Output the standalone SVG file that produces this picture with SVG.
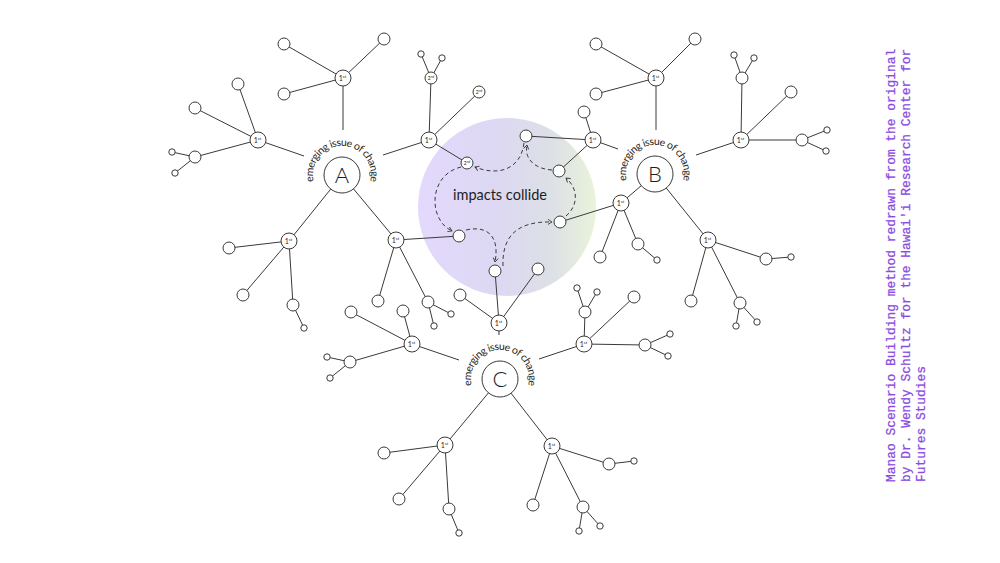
<svg xmlns="http://www.w3.org/2000/svg" xmlns:xlink="http://www.w3.org/1999/xlink" width="1000" height="563" viewBox="0 0 1000 563">
<style>
.ln{stroke:#3a3a3a;stroke-width:1;fill:none}
.dash{stroke:#3a3a3a;stroke-width:1;fill:none;stroke-dasharray:4 3;marker-end:url(#ah)}
.nd{fill:#fff;stroke:#3a3a3a;stroke-width:1}
.t{font-family:Lato,"Open Sans","Liberation Sans",sans-serif;fill:#1e1e1e}
.one{font-size:7px;text-anchor:middle}
.sup{font-size:4.2px}
.arc{font-size:10.5px}
.big{font-size:22px;text-anchor:middle;font-weight:300}
.note{font-family:"Liberation Mono","DejaVu Sans Mono",monospace;font-size:12.9px;fill:#8a4be2;stroke:#8a4be2;stroke-width:0.25}
</style>
<defs>
<linearGradient id="ig" x1="0" y1="0" x2="1" y2="0">
<stop offset="0" stop-color="#e3d9fd"/>
<stop offset="0.45" stop-color="#dcd8f2"/>
<stop offset="0.75" stop-color="#dde0e6"/>
<stop offset="1" stop-color="#e9f3da"/>
</linearGradient>
<marker id="ah" markerWidth="7" markerHeight="7" refX="5" refY="3" orient="auto" markerUnits="userSpaceOnUse">
<path d="M1,0.5 L5,3 L1,5.5" fill="none" stroke="#3a3a3a" stroke-width="0.9"/>
</marker>
<path id="arcA" d="M313.99 182.5 A29 29 0 1 1 370.01 182.5"/>
<path id="arcB" d="M626.99 181.5 A29 29 0 1 1 683.01 181.5"/>
<path id="arcC" d="M471.99 386.5 A29 29 0 1 1 528.01 386.5"/>
</defs>
<rect width="1000" height="563" fill="#fff"/>

<g id="impacts">
<circle cx="507" cy="207" r="89" fill="url(#ig)"/>
<text class="t" x="500" y="200" font-size="15" text-anchor="middle" textLength="94" lengthAdjust="spacingAndGlyphs">impacts collide</text>
</g>

<g id="connectors">
<line class="ln" x1="343" y1="86" x2="343" y2="130"/>
<line class="ln" x1="258" y1="140" x2="304" y2="156"/>
<line class="ln" x1="383" y1="155" x2="429" y2="140"/>
<line class="ln" x1="342" y1="175" x2="289" y2="241"/>
<line class="ln" x1="342" y1="175" x2="396" y2="240"/>
<line class="ln" x1="656" y1="86" x2="656" y2="130"/>
<line class="ln" x1="593" y1="140" x2="618" y2="149"/>
<line class="ln" x1="696" y1="155" x2="741" y2="140"/>
<line class="ln" x1="655" y1="174" x2="621" y2="203"/>
<line class="ln" x1="655" y1="174" x2="708" y2="240"/>
<line class="ln" x1="499" y1="323" x2="499" y2="335"/>
<line class="ln" x1="412" y1="344" x2="459" y2="360"/>
<line class="ln" x1="539" y1="359" x2="584" y2="344"/>
<line class="ln" x1="500" y1="379" x2="445" y2="445"/>
<line class="ln" x1="500" y1="379" x2="552" y2="446"/>
<path class="ln" d="M343 78 L284 44 M343 78 L384 39 M343 78 L284 94"/>
<path class="ln" d="M258 140 L238 84 M258 140 L195 108 M258 140 L195 157 L172 152 M195 157 L175 173"/>
<path class="ln" d="M429 140 L431 78 L421 54 M431 78 L442 58 M429 140 L479 92 M429 140 L467 163"/>
<path class="ln" d="M289 241 L229 248 M289 241 L243 295 M289 241 L293 305 L304 328"/>
<path class="ln" d="M396 240 L459 236 M396 240 L378 301 M396 240 L428 302 L451 314 M428 302 L434 326"/>
<path class="ln" d="M656 78 L596 44 M656 78 L695 39 M656 78 L596 94"/>
<path class="ln" d="M593 140 L584 112 M593 140 L526 136 M593 140 L559 171"/>
<path class="ln" d="M741 140 L742 78 L734 55 M742 78 L754 58 M741 140 L791 92 M741 140 L802 140 L827 130 M802 140 L826 151"/>
<path class="ln" d="M621 203 L560 222 M621 203 L600 257 M621 203 L638 244 L657 260"/>
<path class="ln" d="M708 240 L766 259 L791 257 M708 240 L691 301 M708 240 L740 303 L736 326 M740 303 L757 322"/>
<path class="ln" d="M499 323 L495 271 M499 323 L538 269 M499 323 L460 295"/>
<path class="ln" d="M412 344 L351 312 M412 344 L403 311 M412 344 L350 362 L327 357 M350 362 L330 378"/>
<path class="ln" d="M584 344 L585 312 L577 288 M585 312 L597 292 M584 344 L634 297 M584 344 L645 345 L670 334 M645 345 L668 356"/>
<path class="ln" d="M445 445 L384 453 M445 445 L399 499 M445 445 L449 509 L459 533"/>
<path class="ln" d="M552 446 L609 464 L634 461 M552 446 L533 505 M552 446 L583 507 L579 531 M583 507 L600 526"/>
<path class="dash" d="M524 143 C521 168 500 177 475 167"/>
<path class="dash" d="M461 167 C428 175 428 220 452 231"/>
<path class="dash" d="M466 230 C487 225 500 236 495 262"/>
<path class="dash" d="M503 266 C502 238 515 221 552 222"/>
<path class="dash" d="M566 216 C579 205 578 188 566 178"/>
<path class="dash" d="M552 170 C535 169 524 159 527 145"/>
</g>

<g id="nodeA">
<circle class="nd" cx="342" cy="175" r="18"/>
<text class="t big" x="342" y="182.5">A</text>
<text class="t arc"><textPath xlink:href="#arcA" startOffset="50%" text-anchor="middle" textLength="104" lengthAdjust="spacing">emerging issue of change</textPath></text>
</g>
<g id="nodeB">
<circle class="nd" cx="655" cy="174" r="18"/>
<text class="t big" x="655" y="181.5">B</text>
<text class="t arc"><textPath xlink:href="#arcB" startOffset="50%" text-anchor="middle" textLength="104" lengthAdjust="spacing">emerging issue of change</textPath></text>
</g>
<g id="nodeC">
<circle class="nd" cx="500" cy="379" r="18"/>
<text class="t big" x="500" y="386.5">C</text>
<text class="t arc"><textPath xlink:href="#arcC" startOffset="50%" text-anchor="middle" textLength="104" lengthAdjust="spacing">emerging issue of change</textPath></text>
</g>

<g id="first-level">
<g id="a1"><circle class="nd" cx="343" cy="78" r="8"/><text class="t one" x="342.5" y="80.5">1<tspan class="sup" dy="-2.5">st</tspan></text></g>
<g id="a2"><circle class="nd" cx="258" cy="140" r="8"/><text class="t one" x="257.5" y="142.5">1<tspan class="sup" dy="-2.5">st</tspan></text></g>
<g id="a3"><circle class="nd" cx="429" cy="140" r="8"/><text class="t one" x="428.5" y="142.5">1<tspan class="sup" dy="-2.5">st</tspan></text></g>
<g id="a4"><circle class="nd" cx="289" cy="241" r="8"/><text class="t one" x="288.5" y="243.5">1<tspan class="sup" dy="-2.5">st</tspan></text></g>
<g id="a5"><circle class="nd" cx="396" cy="240" r="8"/><text class="t one" x="395.5" y="242.5">1<tspan class="sup" dy="-2.5">st</tspan></text></g>
<g id="b1"><circle class="nd" cx="656" cy="78" r="8"/><text class="t one" x="655.5" y="80.5">1<tspan class="sup" dy="-2.5">st</tspan></text></g>
<g id="b2"><circle class="nd" cx="593" cy="140" r="8"/><text class="t one" x="592.5" y="142.5">1<tspan class="sup" dy="-2.5">st</tspan></text></g>
<g id="b3"><circle class="nd" cx="741" cy="140" r="8"/><text class="t one" x="740.5" y="142.5">1<tspan class="sup" dy="-2.5">st</tspan></text></g>
<g id="b4"><circle class="nd" cx="621" cy="203" r="8"/><text class="t one" x="620.5" y="205.5">1<tspan class="sup" dy="-2.5">st</tspan></text></g>
<g id="b5"><circle class="nd" cx="708" cy="240" r="8"/><text class="t one" x="707.5" y="242.5">1<tspan class="sup" dy="-2.5">st</tspan></text></g>
<g id="c1"><circle class="nd" cx="499" cy="323" r="8"/><text class="t one" x="498.5" y="325.5">1<tspan class="sup" dy="-2.5">st</tspan></text></g>
<g id="c2"><circle class="nd" cx="412" cy="344" r="8"/><text class="t one" x="411.5" y="346.5">1<tspan class="sup" dy="-2.5">st</tspan></text></g>
<g id="c3"><circle class="nd" cx="584" cy="344" r="8"/><text class="t one" x="583.5" y="346.5">1<tspan class="sup" dy="-2.5">st</tspan></text></g>
<g id="c4"><circle class="nd" cx="445" cy="445" r="8"/><text class="t one" x="444.5" y="447.5">1<tspan class="sup" dy="-2.5">st</tspan></text></g>
<g id="c5"><circle class="nd" cx="552" cy="446" r="8"/><text class="t one" x="551.5" y="448.5">1<tspan class="sup" dy="-2.5">st</tspan></text></g>
</g>

<g id="second-level">
<g id="a3s1"><circle class="nd" cx="431" cy="78" r="6"/><text class="t" x="431" y="80" font-size="5" text-anchor="middle">2<tspan font-size="3" dy="-1.8">nd</tspan></text></g>
<g id="a3s2"><circle class="nd" cx="479" cy="92" r="6"/><text class="t" x="479" y="94" font-size="5" text-anchor="middle">2<tspan font-size="3" dy="-1.8">nd</tspan></text></g>
<g id="a3s3"><circle class="nd" cx="467" cy="163" r="6"/><text class="t" x="467" y="165" font-size="5" text-anchor="middle">2<tspan font-size="3" dy="-1.8">nd</tspan></text></g>
</g>

<g id="impact-nodes">
<circle id="i1" class="nd" cx="526" cy="136" r="6"/>
<circle id="i3" class="nd" cx="459" cy="236" r="6"/>
<circle id="i4" class="nd" cx="495" cy="271" r="6"/>
<circle id="i5" class="nd" cx="560" cy="222" r="6"/>
<circle id="i6" class="nd" cx="559" cy="171" r="6"/>
<circle id="i7" class="nd" cx="538" cy="269" r="6"/>
</g>

<g id="leaves">
<circle class="nd" cx="284" cy="44" r="6"/><circle class="nd" cx="384" cy="39" r="6"/><circle class="nd" cx="284" cy="94" r="6"/>
<circle class="nd" cx="238" cy="84" r="6"/><circle class="nd" cx="195" cy="108" r="6"/><circle class="nd" cx="195" cy="157" r="6"/>
<circle class="nd" cx="172" cy="152" r="3.2"/><circle class="nd" cx="175" cy="173" r="3.2"/>
<circle class="nd" cx="421" cy="54" r="3.2"/><circle class="nd" cx="442" cy="58" r="3.2"/>
<circle class="nd" cx="229" cy="248" r="6"/><circle class="nd" cx="243" cy="295" r="6"/><circle class="nd" cx="293" cy="305" r="6"/><circle class="nd" cx="304" cy="328" r="3.2"/>
<circle class="nd" cx="378" cy="301" r="6"/><circle class="nd" cx="428" cy="302" r="6"/><circle class="nd" cx="451" cy="314" r="3.2"/><circle class="nd" cx="434" cy="326" r="3.2"/>
<circle class="nd" cx="596" cy="44" r="6"/><circle class="nd" cx="695" cy="39" r="6"/><circle class="nd" cx="596" cy="94" r="6"/>
<circle class="nd" cx="584" cy="112" r="6"/>
<circle class="nd" cx="742" cy="78" r="6"/><circle class="nd" cx="734" cy="55" r="3.2"/><circle class="nd" cx="754" cy="58" r="3.2"/>
<circle class="nd" cx="791" cy="92" r="6"/><circle class="nd" cx="802" cy="140" r="6"/><circle class="nd" cx="827" cy="130" r="3.2"/><circle class="nd" cx="826" cy="151" r="3.2"/>
<circle class="nd" cx="600" cy="257" r="6"/><circle class="nd" cx="638" cy="244" r="6"/><circle class="nd" cx="657" cy="260" r="3.2"/>
<circle class="nd" cx="766" cy="259" r="6"/><circle class="nd" cx="791" cy="257" r="3.2"/><circle class="nd" cx="691" cy="301" r="6"/>
<circle class="nd" cx="740" cy="303" r="6"/><circle class="nd" cx="736" cy="326" r="3.2"/><circle class="nd" cx="757" cy="322" r="3.2"/>
<circle class="nd" cx="460" cy="295" r="6"/>
<circle class="nd" cx="351" cy="312" r="6"/><circle class="nd" cx="403" cy="311" r="6"/><circle class="nd" cx="350" cy="362" r="6"/>
<circle class="nd" cx="327" cy="357" r="3.2"/><circle class="nd" cx="330" cy="378" r="3.2"/>
<circle class="nd" cx="585" cy="312" r="6"/><circle class="nd" cx="577" cy="288" r="3.2"/><circle class="nd" cx="597" cy="292" r="3.2"/>
<circle class="nd" cx="634" cy="297" r="6"/><circle class="nd" cx="645" cy="345" r="6"/><circle class="nd" cx="670" cy="334" r="3.2"/><circle class="nd" cx="668" cy="356" r="3.2"/>
<circle class="nd" cx="384" cy="453" r="6"/><circle class="nd" cx="399" cy="499" r="6"/><circle class="nd" cx="449" cy="509" r="6"/><circle class="nd" cx="459" cy="533" r="3.2"/>
<circle class="nd" cx="609" cy="464" r="6"/><circle class="nd" cx="634" cy="461" r="3.2"/><circle class="nd" cx="533" cy="505" r="6"/>
<circle class="nd" cx="583" cy="507" r="6"/><circle class="nd" cx="579" cy="531" r="3.2"/><circle class="nd" cx="600" cy="526" r="3.2"/>
</g>

<g id="credit" transform="translate(895,482) rotate(-90)">
<text class="note" x="0" y="0">Manao Scenario Building method redrawn from the original</text>
<text class="note" x="0" y="15">by Dr. Wendy Schultz for the Hawai'i Research Center for</text>
<text class="note" x="0" y="30">Futures Studies</text>
</g>
</svg>
